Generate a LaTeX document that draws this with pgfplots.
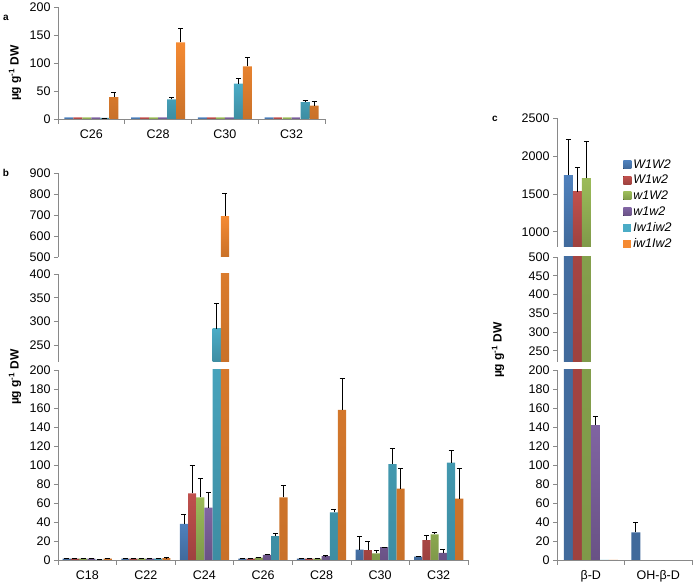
\documentclass[border=0pt]{standalone}
\usepackage{fontspec}
\setmainfont{Liberation Sans}
\usepackage{pgfplots}
\usepackage{pgfplotstable}
\pgfplotsset{compat=1.18}

\definecolor{axgray}{HTML}{898989}
\definecolor{cA}{HTML}{4F81BD}
\definecolor{cB}{HTML}{C0504D}
\definecolor{cC}{HTML}{9BBB59}
\definecolor{cD}{HTML}{8064A2}
\definecolor{cE}{HTML}{4BACC6}
\definecolor{cF}{HTML}{F58A32}

\newcommand\tfont{\fontsize{12.5}{14}\selectfont}

% panel a: C26 C28 C30 C32
\pgfplotstableread{
x s1 s2 s3 s4 s5 e5 s6 e6
0 3 3 3 3 2 0 39 9
1 3 3 3 3 35 3 137 25
2 3 3 3 3 63 9 94 17
3 3 3 3 3 30 3 24 7
}\tabA

% panel b: C18 C22 C24 C26 C28 C30 C32
\pgfplotstableread{
x s1 e1 s2 e2 s3 e3 s4 e4 s5 e5 s6 e6
0 1.5 0 1.5 0 1.5 0 1.5 0 0.3 0 1.5 0.5
1 1.5 0 1.5 0 1.5 0 1.5 0 1.5 0 2 0.5
2 38 10 70 30 66 20 55 16 285 53 693 110
3 1.5 0 1.5 0 2.5 0.5 5.5 0.5 25 3 66 13
4 1.5 0 1.5 0 1.5 0 4 0.5 50 3 158 33
5 11 14 10.5 9.5 7 3 13.5 0 101 17 75 22
6 3.5 0 21 5 27 2 7.4 3.6 102.5 12.5 64.5 31.5
}\tabB

\pgfplotsset{
  common/.style={
    scale only axis, anchor=south west,
    ybar=0pt,
    axis y line*=left,
    axis line style={draw=axgray, line width=0.7pt},
    tick align=outside,
    major tick length=4pt, minor tick length=5pt,
    ytick style={draw=axgray, line width=0.7pt},
    tick label style={font=\tfont, text=black},
    xticklabel style={yshift=-3pt},
    /pgf/number format/assume math mode=true,
    /pgf/number format/1000 sep={},
    scaled y ticks=false,
    clip marker paths=true,
  },
  % upper pieces of a broken axis: drop bars that end below the piece
  upper/.style={common, axis x line=none,
    y filter/.expression={y<#1 ? nan : y}},
  lower/.style={common, axis x line*=bottom,
    major x tick style={draw=none},
    minor x tick style={draw=axgray, line width=0.7pt}},
  eb/.style={draw=none, error bars/.cd, y dir=plus, y explicit,
    error bar style={draw=black, line width=0.6pt},
    error mark options={rotate=90, draw=black, line width=0.6pt, mark size=2.5pt}},
  ne/.style={draw=none},
  sh/.style={top color=#1, bottom color=#1!82!black},
}

\newcommand{\barsB}{%
  \addplot[sh=cA, eb] table[x=x, y=s1, y error=e1] {\tabB};
  \addplot[sh=cB, eb] table[x=x, y=s2, y error=e2] {\tabB};
  \addplot[sh=cC, eb] table[x=x, y=s3, y error=e3] {\tabB};
  \addplot[sh=cD, eb] table[x=x, y=s4, y error=e4] {\tabB};
  \addplot[sh=cE, eb] table[x=x, y=s5, y error=e5] {\tabB};
  \addplot[sh=cF, eb] table[x=x, y=s6, y error=e6] {\tabB};
}

% panel c: beta-D, OH-beta-D
\newcommand{\barsC}{%
  \addplot[sh=cA, eb] coordinates {(0,1745) +- (0,470) (1,29) +- (0,11)};
  \addplot[sh=cB, eb] coordinates {(0,1525) +- (0,320)};
  \addplot[sh=cC, eb] coordinates {(0,1705) +- (0,490)};
  \addplot[sh=cD, eb] coordinates {(0,142) +- (0,9)};
  \addplot[fill=cE, ne] coordinates {(0,0)};
  \addplot[fill=cF, ne] coordinates {(0,0)};
}

\begin{document}
\begin{tikzpicture}[x=1pt, y=1pt]
\useasboundingbox (0,0) rectangle (697,584);

% ---- a ----
\begin{axis}[lower, at={(58pt,465pt)}, width=267pt, height=112pt, bar width=9pt,
  xmin=-0.5, xmax=3.5, ymin=0, ymax=200, ytick={0,50,...,200},
  xtick={0,...,3}, xticklabels={C26,C28,C30,C32}, minor xtick={-0.5,0.5,...,3.5}]
  \addplot[sh=cA, ne] table[x=x, y=s1] {\tabA};
  \addplot[sh=cB, ne] table[x=x, y=s2] {\tabA};
  \addplot[sh=cC, ne] table[x=x, y=s3] {\tabA};
  \addplot[sh=cD, ne] table[x=x, y=s4] {\tabA};
  \addplot[sh=cE, eb] table[x=x, y=s5, y error=e5] {\tabA};
  \addplot[sh=cF, eb] table[x=x, y=s6, y error=e6] {\tabA};
\end{axis}

% ---- b ----
\begin{axis}[upper=500, at={(58pt,327pt)}, width=410pt, height=84pt, bar width=8.2pt,
  xmin=-0.5, xmax=6.5, ymin=500, ymax=900, ytick={500,600,...,900}]
  \barsB
\end{axis}
\begin{axis}[upper=215, at={(58pt,222pt)}, width=410pt, height=88pt, bar width=8.2pt,
  xmin=-0.5, xmax=6.5, ymin=215, ymax=400, ytick={250,300,...,400}]
  \barsB
\end{axis}
\begin{axis}[lower, at={(58pt,24pt)}, width=410pt, height=190pt, bar width=8.2pt,
  xmin=-0.5, xmax=6.5, ymin=0, ymax=200, ytick={0,20,...,200},
  xtick={0,...,6}, xticklabels={C18,C22,C24,C26,C28,C30,C32},
  minor xtick={-0.5,0.5,...,6.5}]
  \barsB
\end{axis}

% ---- c ----
\begin{axis}[upper=800, at={(557pt,337pt)}, width=135pt, height=129pt, bar width=9pt,
  xmin=-0.5, xmax=1.5, ymin=800, ymax=2500, ytick={1000,1500,...,2500}]
  \barsC
\end{axis}
\begin{axis}[upper=220, at={(557pt,222pt)}, width=135pt, height=105pt, bar width=9pt,
  xmin=-0.5, xmax=1.5, ymin=220, ymax=500, ytick={250,300,...,500}]
  \barsC
\end{axis}
\begin{axis}[lower, at={(557pt,24pt)}, width=135pt, height=190pt, bar width=9pt,
  xmin=-0.5, xmax=1.5, ymin=0, ymax=200, ytick={0,20,...,200},
  xtick={0,1}, xticklabels={β-D,OH-β-D}, minor xtick={-0.5,0.5,1.5},
  legend style={draw=none, fill=none, at={(0.49,2.12)}, anchor=north west,
    font=\tfont\itshape, inner sep=0pt, row sep=1.5pt},
  legend cell align=left,
  legend image code/.code={\fill[#1] (0pt,-4pt) rectangle (8pt,4pt);},
  legend entries={W1W2,W1w2,w1W2,w1w2,Iw1iw2,iw1Iw2}]
  \barsC
\end{axis}

% labels
\node[rotate=90, font=\bfseries\fontsize{12}{14}\selectfont] at (15,511) {µg g\textsuperscript{-1} DW};
\node[rotate=90, font=\bfseries\fontsize{12}{14}\selectfont] at (15,207) {µg g\textsuperscript{-1} DW};
\node[rotate=90, font=\bfseries\fontsize{12}{14}\selectfont] at (498,234) {µg g\textsuperscript{-1} DW};
\node[font=\bfseries\fontsize{10}{12}\selectfont] at (6,566) {a};
\node[font=\bfseries\fontsize{10}{12}\selectfont] at (6,411) {b};
\node[font=\bfseries\fontsize{10}{12}\selectfont] at (495,465) {c};
\end{tikzpicture}
\end{document}
